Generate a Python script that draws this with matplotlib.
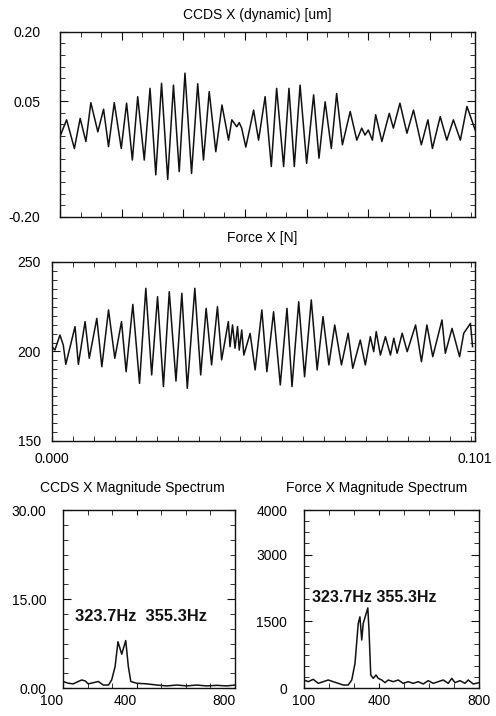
import matplotlib
matplotlib.use('Agg')
import matplotlib.pyplot as plt
import matplotlib.transforms as mtransforms
from matplotlib.ticker import MultipleLocator, FixedLocator

plt.rcParams['font.family'] = ['Liberation Sans', 'DejaVu Sans']

# CCDS X displacement, peaks and troughs
ccds_t = [0.0000, 0.0016, 0.0035, 0.0049, 0.0063, 0.0075, 0.0092, 0.0106, 0.0118, 0.0132,
          0.0149, 0.0162, 0.0176, 0.0189, 0.0205, 0.0219, 0.0233, 0.0247, 0.0262, 0.0276,
          0.0290, 0.0304, 0.0320, 0.0335, 0.0349, 0.0363, 0.0379, 0.0394, 0.0410, 0.0418,
          0.0430, 0.0436, 0.0442, 0.0452, 0.0471, 0.0483, 0.0499, 0.0514, 0.0527, 0.0544,
          0.0557, 0.0570, 0.0584, 0.0600, 0.0617, 0.0630, 0.0645, 0.0660, 0.0673, 0.0687,
          0.0706, 0.0722, 0.0734, 0.0742, 0.0750, 0.0760, 0.0768, 0.0783, 0.0801, 0.0811,
          0.0827, 0.0844, 0.0860, 0.0879, 0.0895, 0.0906, 0.0925, 0.0941, 0.0957, 0.0974,
          0.0990, 0.1010]
ccds_v = [-0.026, 0.010, -0.052, 0.013, -0.037, 0.047, -0.016, 0.033, -0.048, 0.047,
          -0.052, 0.046, -0.077, 0.060, -0.077, 0.078, -0.109, 0.089, -0.119, 0.085,
          -0.102, 0.111, -0.106, 0.088, -0.077, 0.071, -0.059, 0.042, -0.034, 0.010,
          -0.005, 0.004, -0.008, -0.049, 0.031, -0.034, 0.060, -0.091, 0.078, -0.091,
          0.078, -0.091, 0.085, -0.084, 0.064, -0.073, 0.049, -0.052, 0.067, -0.044,
          0.028, -0.034, -0.008, -0.023, -0.012, -0.034, 0.021, -0.037, 0.024, -0.008,
          0.046, -0.019, 0.031, -0.044, 0.010, -0.052, 0.017, -0.034, 0.010, -0.034,
          0.039, -0.012]

# Force X
force_t = [0.0000, 0.0007, 0.0019, 0.0027, 0.0033, 0.0055, 0.0063, 0.0079, 0.0089, 0.0107,
           0.0119, 0.0135, 0.0150, 0.0166, 0.0177, 0.0193, 0.0209, 0.0224, 0.0238, 0.0252,
           0.0266, 0.0280, 0.0296, 0.0310, 0.0323, 0.0341, 0.0355, 0.0368, 0.0381, 0.0395,
           0.0405, 0.0421, 0.0425, 0.0431, 0.0437, 0.0443, 0.0447, 0.0453, 0.0458, 0.0473,
           0.0485, 0.0501, 0.0513, 0.0529, 0.0545, 0.0561, 0.0573, 0.0589, 0.0603, 0.0619,
           0.0633, 0.0647, 0.0661, 0.0675, 0.0691, 0.0707, 0.0718, 0.0736, 0.0748, 0.0760,
           0.0768, 0.0774, 0.0784, 0.0796, 0.0808, 0.0816, 0.0824, 0.0836, 0.0848, 0.0868,
           0.0882, 0.0895, 0.0909, 0.0931, 0.0939, 0.0955, 0.0973, 0.0983, 0.0999, 0.1004]
force_v = [202.7, 200.8, 209.2, 203.6, 192.8, 213.9, 192.8, 216.7, 196.2, 218.5,
           191.5, 223.2, 196.2, 216.7, 188.7, 226.3, 182.2, 235.3, 186.9, 230.6,
           180.4, 233.4, 183.5, 232.5, 179.4, 235.3, 186.9, 224.1, 192.5, 225.0,
           195.3, 216.7, 202.7, 214.8, 201.8, 213.9, 200.8, 212.0, 198.0, 210.1,
           189.7, 223.2, 188.7, 222.2, 181.3, 224.1, 180.4, 227.8, 185.9, 228.8,
           189.7, 219.5, 192.5, 214.8, 192.5, 210.2, 190.6, 206.4, 192.5, 208.3,
           199.9, 211.1, 198.0, 208.3, 198.0, 207.4, 199.0, 210.2, 199.9, 214.8,
           194.3, 214.8, 197.1, 217.6, 199.0, 212.9, 197.1, 210.2, 215.7, 202.7]

# magnitude spectra
ccds_freq = [100, 122, 142, 162, 176, 190, 203, 224, 244, 264, 285, 298, 312, 323.7, 339,
             355.3, 366, 376, 400, 441, 481, 522, 563, 604, 644, 685, 726, 766, 800]
ccds_amp = [1.1, 0.8, 0.7, 1.1, 1.35, 1.2, 0.7, 0.9, 1.1, 0.5, 0.5, 1.35, 3.6, 7.8, 5.7,
            8.0, 3.6, 1.1, 0.8, 0.7, 0.5, 0.35, 0.5, 0.35, 0.5, 0.35, 0.45, 0.35, 0.5]

force_freq = [100, 117, 137, 157, 177, 197, 217, 237, 257, 277, 291, 304, 317, 323.7, 331,
              337, 355.3, 360, 367, 377, 388, 397, 411, 424, 437, 457, 477, 497, 517, 537,
              557, 577, 597, 617, 637, 657, 677, 691, 704, 724, 744, 757, 777, 800]
force_amp = [180, 142, 195, 105, 142, 180, 142, 105, 67, 67, 180, 554, 1453, 1600, 1079,
             1453, 1800, 1303, 292, 217, 292, 217, 180, 120, 180, 142, 180, 105, 142, 105,
             142, 90, 165, 105, 142, 180, 105, 217, 120, 165, 105, 180, 90, 120]

peak_label = ['323.7Hz', '355.3Hz']

fig = plt.figure(figsize=(4.96, 7.16), dpi=100)
ink = '#111111'


def style(ax, pad):
    ax.tick_params(which='both', direction='in', top=True, right=True,
                   labelsize=10, pad=pad, color=ink)
    ax.tick_params(which='major', length=6)
    ax.tick_params(which='minor', length=3.5)
    for s in ax.spines.values():
        s.set_linewidth(1.0)
        s.set_color(ink)


# top: CCDS time signal
ax1 = fig.add_axes([0.121, 0.697, 0.837, 0.2584])
ax1.plot(ccds_t, ccds_v, color=ink, lw=1.1)
ax1.set_xlim(0, 0.101)
ax1.set_ylim(-0.20, 0.20)
ax1.yaxis.set_major_locator(FixedLocator([-0.20, 0.05, 0.20]))
ax1.yaxis.set_minor_locator(MultipleLocator(0.025))
ax1.set_yticklabels(['-0.20', '0.05', '0.20'])
ax1.xaxis.set_major_locator(MultipleLocator(0.015))
ax1.xaxis.set_minor_locator(MultipleLocator(0.005))
ax1.set_xticklabels([])
style(ax1, 14)
fig.text(257 / 496, 1 - 15 / 716, 'CCDS X (dynamic) [um]', ha='center', va='center', fontsize=10)

# middle: force time signal
ax2 = fig.add_axes([0.1048, 0.3841, 0.853, 0.25])
ax2.plot(force_t, force_v, color=ink, lw=1.1)
ax2.set_xlim(0, 0.101)
ax2.set_ylim(150, 250)
ax2.yaxis.set_major_locator(FixedLocator([150, 200, 250]))
ax2.yaxis.set_minor_locator(MultipleLocator(5))
ax2.xaxis.set_major_locator(FixedLocator([0.0, 0.101]))
ax2.xaxis.set_minor_locator(MultipleLocator(0.005))
ax2.set_xticklabels(['0.000', '0.101'])
style(ax2, 8)
ax2.tick_params(axis='x', which='major', length=3.5)
fig.text(262 / 496, 1 - 238 / 716, 'Force X [N]', ha='center', va='center', fontsize=10)

# bottom left: CCDS spectrum
ax3 = fig.add_axes([0.127, 0.0391, 0.3468, 0.2486])
ax3.plot(ccds_freq, ccds_amp, color=ink, lw=1.1)
ax3.set_xlim(100, 800)
ax3.set_ylim(0, 30)
ax3.yaxis.set_major_locator(FixedLocator([0, 15, 30]))
ax3.yaxis.set_minor_locator(MultipleLocator(2.5))
ax3.set_yticklabels(['0.00', '15.00', '30.00'])
ax3.xaxis.set_major_locator(FixedLocator([100, 400, 800]))
ax3.xaxis.set_minor_locator(MultipleLocator(100))
ax3.set_xticklabels(['100', '400', '800'])
style(ax3, 12)
ax3.tick_params(axis='x', which='major', length=3.5, pad=4)
shift = mtransforms.ScaledTranslation(-0.11, 0, fig.dpi_scale_trans)
for lab in ax3.get_xticklabels():
    lab.set_transform(lab.get_transform() + shift)
ax3.text(0.07, 0.40, '  '.join(peak_label), transform=ax3.transAxes, va='center',
         fontsize=11.8, fontweight='bold', color=ink)
fig.text(132 / 496, 1 - 488 / 716, 'CCDS X Magnitude Spectrum', ha='center', va='center', fontsize=10)

# bottom right: force spectrum
ax4 = fig.add_axes([0.6129, 0.0391, 0.3528, 0.2486])
ax4.plot(force_freq, force_amp, color=ink, lw=1.1)
ax4.set_xlim(100, 800)
ax4.set_ylim(0, 4000)
ax4.yaxis.set_major_locator(FixedLocator([0, 1500, 3000, 4000]))
ax4.yaxis.set_minor_locator(MultipleLocator(250))
ax4.xaxis.set_major_locator(FixedLocator([100, 400, 800]))
ax4.xaxis.set_minor_locator(MultipleLocator(100))
ax4.set_xticklabels(['100', '400', '800'])
style(ax4, 12)
ax4.tick_params(axis='x', which='major', length=3.5, pad=4)
ax4.text(0.045, 0.51, ' '.join(peak_label), transform=ax4.transAxes, va='center',
         fontsize=11.5, fontweight='bold', color=ink)
fig.text(377 / 496, 1 - 488 / 716, 'Force X Magnitude Spectrum', ha='center', va='center', fontsize=10)

fig.savefig('out.png', dpi=100)
